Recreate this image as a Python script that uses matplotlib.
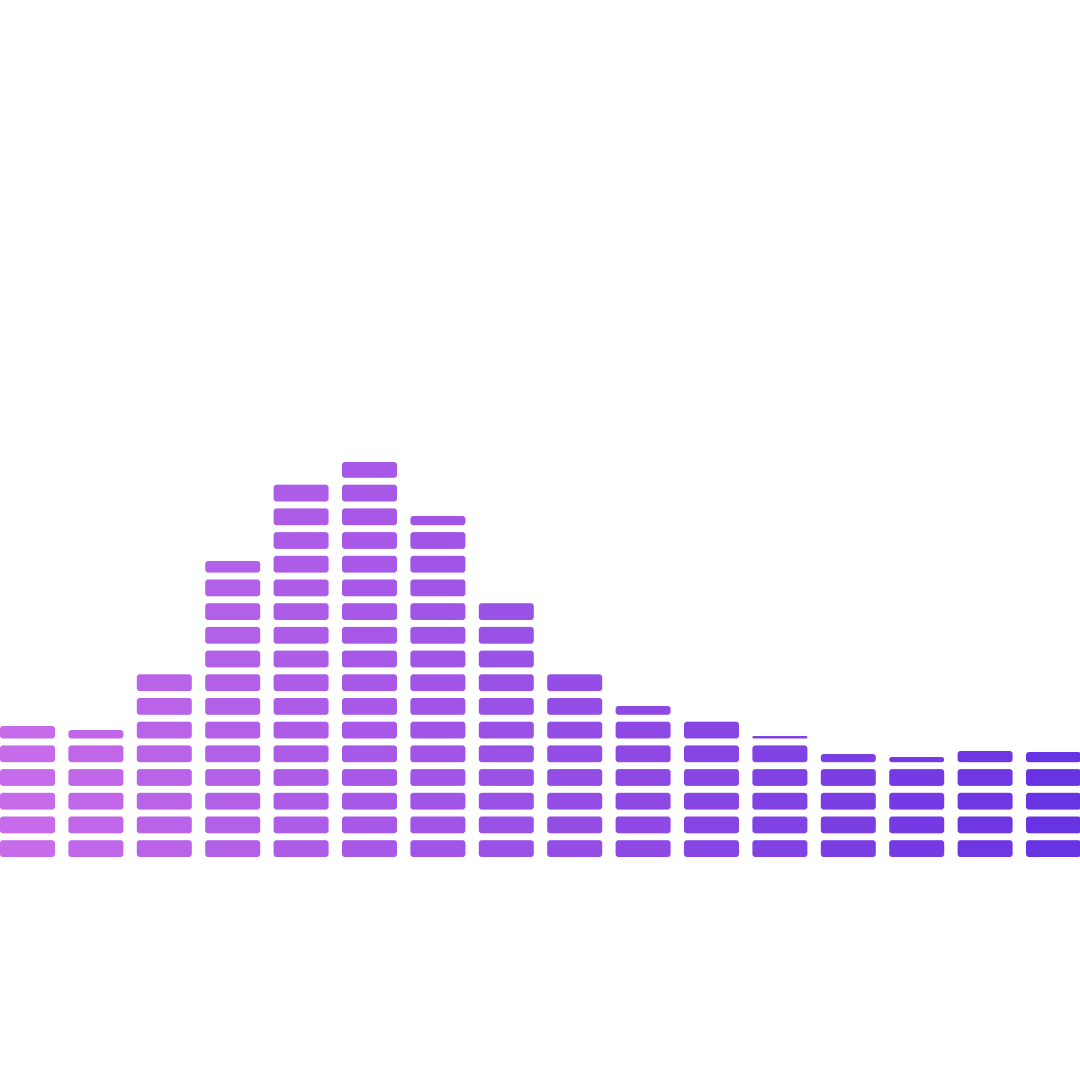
import matplotlib
matplotlib.use("Agg")
import matplotlib.pyplot as plt
from matplotlib.patches import FancyBboxPatch
from matplotlib.colors import LinearSegmentedColormap
import numpy as np

# bar heights (in pixel-like units above the baseline)
values = [131, 127, 183, 296, 373, 395, 341, 254, 183, 151, 136, 121, 103, 100, 106, 105]
categories = list(range(len(values)))

COLOR_LEFT = "#c66be9"
COLOR_RIGHT = "#6833e2"

PERIOD = 23.7   # one segment + gap
SEG_H = 16.8    # segment height
BAR_W = 0.804   # width in category units
PX_PER_X = 68.4
RADIUS = 3.0


def draw_segments(ax, x, value, color):
    k = 0
    while k * PERIOD < value:
        bottom = k * PERIOD
        top = min(bottom + SEG_H, value)
        h = top - bottom
        if h > 0.5:
            r = min(RADIUS, h / 2.0)
            patch = FancyBboxPatch(
                (x - BAR_W / 2, bottom), BAR_W, h,
                boxstyle="round,pad=0,rounding_size=%f" % (r / PX_PER_X),
                mutation_aspect=PX_PER_X,
                facecolor=color, edgecolor="none", linewidth=0,
            )
            ax.add_patch(patch)
        k += 1


def main() -> None:
    fig = plt.figure(figsize=(10.8, 10.8), dpi=100)
    ax = fig.add_axes([0, 0, 1, 1])
    cmap = LinearSegmentedColormap.from_list("eq", [COLOR_LEFT, COLOR_RIGHT])
    n = len(values)
    for i, v in zip(categories, values):
        draw_segments(ax, i, v, cmap(i / (n - 1)))

    ax.set_xlim(-BAR_W / 2, -BAR_W / 2 + 1080 / PX_PER_X)
    ax.set_ylim(-223, 857)
    ax.axis("off")
    fig.savefig("out.png", dpi=100, facecolor="white")


main()
